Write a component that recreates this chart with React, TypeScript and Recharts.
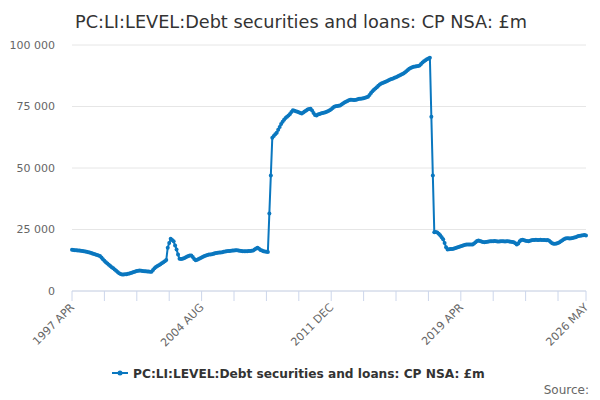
import React from 'react';
import { LineChart, Line, XAxis, YAxis, CartesianGrid } from 'recharts';

const SERIES_NAME = 'PC:LI:LEVEL:Debt securities and loans: CP NSA: £m';
const TITLE = 'PC:LI:LEVEL:Debt securities and loans: CP NSA: £m';
const SOURCE = 'Source:';

// Monthly values, 1997 APR .. 2026 MAY (£m)
const values: number[] = [
  16800, 16700, 16600, 16600, 16500, 16500, 16400, 16300, 16200, 16100,
  16000, 15800, 15600, 15400, 15200, 15000, 14800, 14600, 14400, 14200,
  13600, 12900, 12300, 11700, 11200, 10700, 10200, 9700, 9200, 8700,
  8200, 7700, 7200, 6900, 6700, 6700, 6800, 6800, 7000, 7100,
  7300, 7500, 7700, 7900, 8100, 8200, 8300, 8200, 8100, 8000,
  8000, 7900, 7900, 7800, 7800, 8500, 9200, 9800, 10200, 10500,
  10900, 11300, 11700, 12100, 12600, 17600, 19500, 21200, 20700, 20200,
  18500, 16900, 14800, 13100, 13000, 13100, 13300, 13600, 13900, 14200,
  14400, 14400, 13800, 13000, 12500, 12700, 13000, 13300, 13600, 13900,
  14200, 14400, 14600, 14800, 14800, 14900, 15100, 15300, 15400, 15500,
  15600, 15700, 15800, 16000, 16100, 16200, 16300, 16300, 16400, 16500,
  16500, 16600, 16600, 16500, 16400, 16300, 16200, 16200, 16200, 16200,
  16300, 16300, 16400, 16500, 16900, 17300, 17600, 17200, 16700, 16500,
  16200, 16100, 16000, 15900, 31500, 47000, 62300, 63000, 63700, 64300,
  65500, 66700, 67900, 68800, 69600, 70300, 70800, 71300, 72000, 72800,
  73500, 73300, 73100, 72900, 72700, 72400, 72200, 72600, 73000, 73400,
  73800, 74000, 74100, 73400, 72400, 71500, 71300, 71700, 72000, 72200,
  72400, 72500, 72700, 72900, 73200, 73500, 73900, 74400, 74900, 75100,
  75200, 75300, 75400, 75800, 76200, 76600, 76900, 77200, 77500, 77700,
  77700, 77600, 77600, 77700, 77900, 78100, 78200, 78300, 78400, 78600,
  78800, 79000, 79700, 80500, 81200, 81800, 82300, 82800, 83400, 83900,
  84300, 84600, 84900, 85100, 85400, 85700, 86000, 86200, 86400, 86700,
  86900, 87200, 87500, 87800, 88100, 88400, 88800, 89300, 89800, 90300,
  90700, 91000, 91200, 91300, 91400, 91500, 91700, 92300, 92900, 93400,
  93800, 94200, 94500, 94800, 70800, 47000, 23900, 24000, 23800, 23300,
  22700, 21900, 21000, 19500, 17800, 16900, 17000, 17100, 17100, 17200,
  17400, 17600, 17800, 18000, 18200, 18400, 18600, 18800, 18900, 18900,
  18900, 18900, 18900, 19300, 19800, 20300, 20500, 20300, 20100, 19900,
  19800, 19900, 20000, 20100, 20200, 20200, 20200, 20300, 20200, 20100,
  20100, 20200, 20200, 20200, 20100, 20200, 20200, 20100, 20000, 19900,
  19800, 19400, 18900, 19300, 20200, 20700, 20800, 20600, 20400, 20300,
  20200, 20400, 20600, 20700, 20700, 20800, 20700, 20700, 20800, 20700,
  20700, 20700, 20600, 20700, 20400, 19900, 19400, 19200, 19200, 19300,
  19500, 19800, 20200, 20600, 21000, 21300, 21400, 21400, 21300, 21400,
  21500, 21700, 21900, 22200, 22400, 22500, 22600, 22700, 22800, 22600,
];

const xTickPositions = [0, 22, 44, 66, 88, 110, 132, 154, 176, 198, 220, 242, 264, 286, 308, 330, 349];
const xLabelPositions = [0, 88, 176, 264, 349];
const xLabelTexts = ['1997 APR', '2004 AUG', '2011 DEC', '2019 APR', '2026 MAY'];
const yTicks = [0, 25000, 50000, 75000, 100000];

const data = values.map((v, i) => ({ i, v }));

const COLOR = '#0a77bf';
const FONT = '"DejaVu Sans", sans-serif';
const AXIS_COLOR = '#ccd6eb';

const fmt = (n: number) => String(n).replace(/\B(?=(\d{3})+(?!\d))/g, ' ');

function XTick(props: any) {
  const { x, y, payload } = props;
  const idx = xLabelPositions.indexOf(payload.value);
  if (idx < 0) return <g />;
  const ax = x + 3;
  const ay = y + 5;
  return (
    <text
      x={ax}
      y={ay}
      transform={`rotate(-45, ${ax}, ${ay})`}
      textAnchor="end"
      fontSize={11}
      fill="#666666"
      fontFamily={FONT}
    >
      {xLabelTexts[idx]}
    </text>
  );
}

export default function App() {
  return (
    <div style={{ position: 'absolute', left: 0, top: 0, width: 600, height: 400, background: '#ffffff' }}>
      <LineChart
        width={600}
        height={400}
        data={data}
        margin={{ top: 45, right: 14, left: 0, bottom: 49 }}
      >
        <CartesianGrid vertical={false} stroke="#e6e6e6" />
        <XAxis
          dataKey="i"
          type="number"
          domain={[0, 349]}
          ticks={xTickPositions}
          interval={0}
          height={60}
          tickSize={10}
          tickMargin={2}
          axisLine={{ stroke: AXIS_COLOR }}
          tickLine={{ stroke: AXIS_COLOR }}
          tick={<XTick />}
        />
        <YAxis
          type="number"
          domain={[0, 100000]}
          ticks={yTicks}
          width={72}
          axisLine={false}
          tickLine={false}
          tickSize={6}
          tickMargin={11}
          tickFormatter={fmt}
          tick={{ fontSize: 11, fill: '#666666', fontFamily: FONT }}
        />
        <Line
          type="linear"
          dataKey="v"
          name={SERIES_NAME}
          stroke={COLOR}
          strokeWidth={2}
          dot={{ r: 2, fill: COLOR, stroke: COLOR, strokeWidth: 0 }}
          activeDot={false}
          isAnimationActive={false}
        />
      </LineChart>
      <svg
        width={600}
        height={400}
        style={{ position: 'absolute', left: 0, top: 0, pointerEvents: 'none' }}
      >
        <text x={301} y={27.5} textAnchor="middle" fontSize={17.7} fill="#333333" fontFamily={FONT}>
          {TITLE}
        </text>
        <line x1={112} y1={373} x2={128} y2={373} stroke={COLOR} strokeWidth={2} />
        <circle cx={120} cy={373} r={2.5} fill={COLOR} />
        <text x={133} y={377.5} fontSize={12.2} fontWeight="bold" fill="#333333" fontFamily={FONT}>
          {SERIES_NAME}
        </text>
        <text x={589} y={393.5} textAnchor="end" fontSize={12} fill="#666666" fontFamily={FONT}>
          {SOURCE}
        </text>
      </svg>
    </div>
  );
}
